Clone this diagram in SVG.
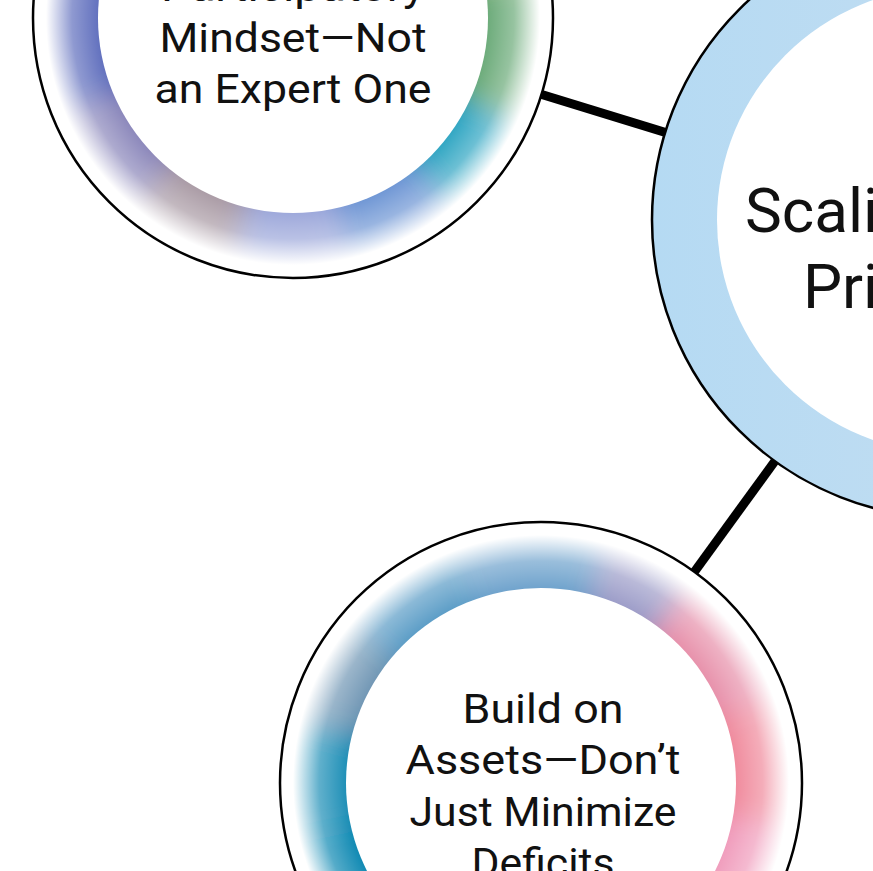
<svg xmlns="http://www.w3.org/2000/svg" width="873" height="871" viewBox="0 0 873 871">
  <style>
    .lbl { font-family: Roboto, "Liberation Sans", sans-serif; font-size: 41px; fill: #111; text-anchor: middle; }
    .big { font-family: Roboto, "Liberation Sans", sans-serif; font-size: 62px; fill: #111; }
    .edge { stroke: #000; stroke-width: 9; fill: none; }
    .rim { fill: none; stroke: #000; stroke-width: 2.5; }
    .seg { fill: none; stroke-width: 130; }
  </style>
  <defs>
    <filter id="soft" x="-20%" y="-20%" width="140%" height="140%">
      <feGaussianBlur stdDeviation="13"/>
    </filter>
    <radialGradient id="fade" cx="0.5" cy="0.5" r="0.5">
      <stop offset="0.74" stop-color="#fff" stop-opacity="0"/>
      <stop offset="0.85" stop-color="#fff" stop-opacity="0.3"/>
      <stop offset="0.95" stop-color="#fff" stop-opacity="1"/>
      <stop offset="1" stop-color="#fff" stop-opacity="1"/>
    </radialGradient>
    <linearGradient id="bigGrad" x1="0" y1="0" x2="1" y2="0">
      <stop offset="0" stop-color="#b5daf3"/>
      <stop offset="1" stop-color="#cadff0"/>
    </linearGradient>
    <clipPath id="clipTL"><circle cx="293" cy="18" r="260"/></clipPath>
    <clipPath id="clipB"><circle cx="541" cy="783" r="261"/></clipPath>
  </defs>

  <g id="connectors">
    <line class="edge" x1="293" y1="18" x2="950" y2="220"/>
    <line class="edge" x1="950" y1="220" x2="541" y2="783"/>
  </g>

  <g id="node-participatory">
    <g clip-path="url(#clipTL)">
      <g filter="url(#soft)">
        <circle class="seg" cx="293" cy="18" r="225" pathLength="360" stroke="#a6bf8e" stroke-dasharray="60 300" stroke-dashoffset="70"/>
        <circle class="seg" cx="293" cy="18" r="225" pathLength="360" stroke="#6aaa78" stroke-dasharray="35 325" stroke-dashoffset="10"/>
        <circle class="seg" cx="293" cy="18" r="225" pathLength="360" stroke="#2fa5c2" stroke-dasharray="25 335" stroke-dashoffset="-25"/>
        <circle class="seg" cx="293" cy="18" r="225" pathLength="360" stroke="#6d95d4" stroke-dasharray="27 333" stroke-dashoffset="-50"/>
        <circle class="seg" cx="293" cy="18" r="225" pathLength="360" stroke="#9ca7da" stroke-dasharray="27 333" stroke-dashoffset="-77"/>
        <circle class="seg" cx="293" cy="18" r="225" pathLength="360" stroke="#a99aa4" stroke-dasharray="26 334" stroke-dashoffset="-104"/>
        <circle class="seg" cx="293" cy="18" r="225" pathLength="360" stroke="#8a86ba" stroke-dasharray="27 333" stroke-dashoffset="-130"/>
        <circle class="seg" cx="293" cy="18" r="225" pathLength="360" stroke="#5f6ebd" stroke-dasharray="135 225" stroke-dashoffset="-157"/>
      </g>
      <circle cx="293" cy="18" r="260" fill="url(#fade)"/>
    </g>
    <circle cx="293" cy="18" r="195" fill="#fff"/>
    <circle class="rim" cx="293" cy="18" r="260"/>
    <text class="lbl" x="293" y="1" textLength="264" lengthAdjust="spacingAndGlyphs">Participatory</text>
    <text class="lbl" x="293" y="52" textLength="267" lengthAdjust="spacingAndGlyphs">Mindset—Not</text>
    <text class="lbl" x="293" y="103" textLength="277" lengthAdjust="spacingAndGlyphs">an Expert One</text>
  </g>

  <g id="node-scaling">
    <circle cx="950" cy="220" r="298" fill="url(#bigGrad)" stroke="#000" stroke-width="2.5"/>
    <circle cx="950" cy="220" r="233" fill="#fff"/>
    <text class="big" x="745" y="232">Scaling</text>
    <text class="big" x="803" y="308">Principles</text>
  </g>

  <g id="node-assets">
    <g clip-path="url(#clipB)">
      <g filter="url(#soft)">
        <circle class="seg" cx="541" cy="783" r="226" pathLength="360" stroke="#f08a9c" stroke-dasharray="30 330" stroke-dashoffset="20"/>
        <circle class="seg" cx="541" cy="783" r="226" pathLength="360" stroke="#f09cbc" stroke-dasharray="80 280" stroke-dashoffset="-10"/>
        <circle class="seg" cx="541" cy="783" r="226" pathLength="360" stroke="#0a88b2" stroke-dasharray="78 282" stroke-dashoffset="-90"/>
        <circle class="seg" cx="541" cy="783" r="226" pathLength="360" stroke="#1a8eb6" stroke-dasharray="27 333" stroke-dashoffset="-168"/>
        <circle class="seg" cx="541" cy="783" r="226" pathLength="360" stroke="#7096b4" stroke-dasharray="25 335" stroke-dashoffset="-195"/>
        <circle class="seg" cx="541" cy="783" r="226" pathLength="360" stroke="#5a9cc6" stroke-dasharray="30 330" stroke-dashoffset="-220"/>
        <circle class="seg" cx="541" cy="783" r="226" pathLength="360" stroke="#6ea2cc" stroke-dasharray="35 325" stroke-dashoffset="-250"/>
        <circle class="seg" cx="541" cy="783" r="226" pathLength="360" stroke="#9c9cc8" stroke-dasharray="22 338" stroke-dashoffset="-285"/>
        <circle class="seg" cx="541" cy="783" r="226" pathLength="360" stroke="#e790aa" stroke-dasharray="33 327" stroke-dashoffset="-307"/>
      </g>
      <circle cx="541" cy="783" r="261" fill="url(#fade)"/>
    </g>
    <circle cx="541" cy="783" r="195" fill="#fff"/>
    <circle class="rim" cx="541" cy="783" r="261"/>
    <text class="lbl" x="543" y="723" textLength="161" lengthAdjust="spacingAndGlyphs">Build on</text>
    <text class="lbl" x="543" y="774" textLength="275" lengthAdjust="spacingAndGlyphs">Assets—Don’t</text>
    <text class="lbl" x="543" y="826" textLength="267" lengthAdjust="spacingAndGlyphs">Just Minimize</text>
    <text class="lbl" x="543" y="877" textLength="143" lengthAdjust="spacingAndGlyphs">Deficits</text>
  </g>
</svg>
